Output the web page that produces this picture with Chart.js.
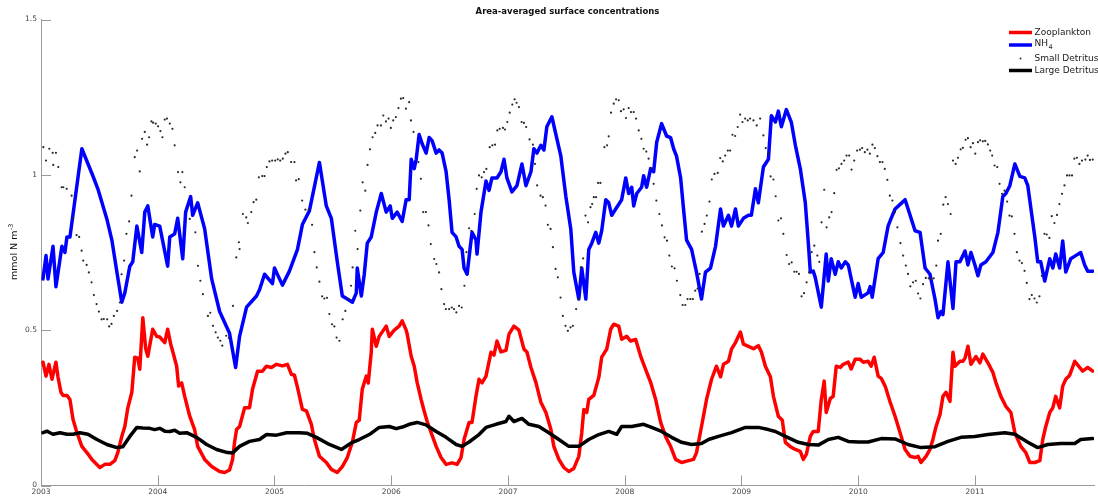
<!DOCTYPE html>
<html>
<head>
<meta charset="utf-8">
<script src="https://cdn.jsdelivr.net/npm/chart.js@4.4.1/dist/chart.umd.min.js"></script>
<style>
  html, body { margin: 0; padding: 0; background: #fff; }
  #wrap { width: 1098px; height: 499px; }
</style>
</head>
<body>
<div id="wrap"><canvas id="myChart" width="1098" height="499"></canvas></div>
<script>
const chartTitle = "Area-averaged surface concentrations";
const startYear = 2003;
const xTicks = [2003, 2004, 2005, 2006, 2007, 2008, 2009, 2010, 2011];
const yTicks = [0, 0.5, 1, 1.5];
const seriesNames = ["Zooplankton", "NH4", "Small Detritus", "Large Detritus"];

// times are years since the start of 2003, values in mmol N m-3

const zooT = [0.017,0.043,0.068,0.094,0.128,0.145,0.171,0.188,0.222,0.248,0.274,0.308,0.350,0.393,0.436,0.504,0.547,0.590,0.632,0.658,
  0.692,0.718,0.744,0.778,0.803,0.829,0.846,0.872,0.897,0.915,0.957,0.991,1.017,1.060,1.085,1.111,1.128,1.162,1.179,1.205,
  1.231,1.274,1.316,1.342,1.402,1.462,1.530,1.573,1.615,1.641,1.658,1.675,1.701,1.744,1.786,1.812,1.855,1.897,1.932,1.974,
  2.017,2.068,2.111,2.145,2.171,2.197,2.239,2.274,2.316,2.342,2.385,2.444,2.487,2.538,2.581,2.624,2.667,2.701,2.726,2.752,
  2.786,2.803,2.829,2.838,2.872,2.897,2.957,2.983,3.026,3.068,3.094,3.128,3.137,3.171,3.197,3.222,3.256,3.282,3.308,3.342,
  3.385,3.427,3.470,3.521,3.564,3.598,3.624,3.667,3.692,3.726,3.752,3.778,3.812,3.855,3.880,3.906,3.940,3.983,4.009,4.051,
  4.094,4.137,4.162,4.197,4.239,4.282,4.325,4.368,4.393,4.436,4.479,4.521,4.564,4.607,4.632,4.650,4.675,4.692,4.735,4.778,
  4.803,4.846,4.880,4.906,4.949,4.974,5.017,5.051,5.094,5.137,5.179,5.222,5.265,5.308,5.350,5.393,5.436,5.487,5.547,5.590,
  5.615,5.658,5.701,5.744,5.786,5.821,5.846,5.889,5.915,5.949,5.991,6.017,6.060,6.103,6.145,6.171,6.205,6.248,6.274,6.316,
  6.350,6.376,6.419,6.462,6.504,6.530,6.556,6.590,6.615,6.658,6.684,6.709,6.726,6.761,6.786,6.812,6.846,6.872,6.915,6.940,
  6.974,7.017,7.043,7.085,7.111,7.137,7.171,7.197,7.231,7.274,7.316,7.359,7.402,7.444,7.487,7.513,7.538,7.581,7.615,7.641,
  7.667,7.701,7.726,7.752,7.786,7.812,7.829,7.872,7.897,7.915,7.940,7.966,8.009,8.043,8.068,8.111,8.154,8.179,8.222,8.265,
  8.308,8.342,8.393,8.436,8.470,8.513,8.556,8.581,8.607,8.641,8.667,8.692,8.726,8.752,8.778,8.812,8.855,8.897,8.923,8.966,
  9.009];
const zooV = [0.397,0.352,0.39,0.342,0.397,0.35,0.30,0.29,0.29,0.277,0.213,0.17,0.126,0.106,0.084,0.058,0.068,0.068,0.08,0.106,
  0.158,0.19,0.25,0.30,0.413,0.41,0.374,0.54,0.44,0.416,0.503,0.48,0.478,0.46,0.503,0.455,0.432,0.384,0.32,0.33,
  0.287,0.223,0.18,0.126,0.084,0.061,0.045,0.042,0.05,0.084,0.139,0.18,0.19,0.25,0.25,0.31,0.368,0.368,0.384,0.38,
  0.39,0.385,0.39,0.358,0.355,0.316,0.245,0.24,0.197,0.148,0.094,0.074,0.052,0.042,0.061,0.09,0.139,0.203,0.21,0.31,
  0.352,0.33,0.429,0.503,0.448,0.48,0.513,0.48,0.50,0.513,0.53,0.50,0.487,0.416,0.384,0.332,0.277,0.24,0.206,0.17,
  0.126,0.09,0.068,0.073,0.068,0.09,0.148,0.203,0.203,0.287,0.342,0.33,0.352,0.429,0.42,0.465,0.43,0.435,0.487,0.513,
  0.50,0.439,0.43,0.38,0.332,0.268,0.235,0.18,0.126,0.084,0.058,0.045,0.055,0.094,0.17,0.245,0.235,0.277,0.29,0.348,
  0.413,0.439,0.503,0.519,0.513,0.471,0.48,0.465,0.47,0.416,0.374,0.332,0.277,0.203,0.158,0.126,0.084,0.074,0.08,0.084,
  0.106,0.19,0.277,0.342,0.384,0.35,0.39,0.40,0.439,0.46,0.494,0.455,0.448,0.44,0.45,0.43,0.384,0.35,0.287,0.223,
  0.21,0.139,0.125,0.116,0.11,0.084,0.10,0.158,0.174,0.174,0.277,0.336,0.235,0.28,0.287,0.384,0.38,0.39,0.397,0.375,
  0.406,0.406,0.397,0.40,0.384,0.413,0.352,0.345,0.32,0.268,0.223,0.17,0.116,0.094,0.09,0.094,0.074,0.094,0.116,0.15,
  0.19,0.229,0.287,0.30,0.271,0.429,0.384,0.40,0.40,0.41,0.448,0.39,0.415,0.395,0.423,0.395,0.364,0.332,0.287,0.255,
  0.235,0.17,0.126,0.106,0.074,0.074,0.08,0.148,0.19,0.235,0.25,0.287,0.25,0.32,0.342,0.355,0.40,0.38,0.368,0.38,
  0.368];

const nh4T = [0.017,0.043,0.060,0.103,0.128,0.179,0.205,0.222,0.248,0.350,0.444,0.487,0.564,0.607,0.650,0.692,0.718,0.761,0.786,0.821,
  0.863,0.889,0.915,0.957,0.974,1.017,1.085,1.103,1.145,1.171,1.214,1.239,1.282,1.299,1.342,1.402,1.462,1.530,1.615,1.667,
  1.701,1.761,1.846,1.872,1.915,1.983,2.000,2.068,2.128,2.197,2.239,2.299,2.385,2.444,2.487,2.538,2.581,2.624,2.667,2.701,
  2.709,2.744,2.769,2.795,2.829,2.872,2.915,2.957,2.991,3.009,3.051,
  3.094,3.128,3.154,3.171,3.197,3.214,3.239,3.265,3.299,3.325,3.350,3.385,3.410,3.436,3.470,3.496,3.521,3.556,3.581,3.607,
  3.624,3.650,3.692,3.726,3.735,3.769,3.812,3.838,3.863,3.906,3.940,3.966,3.991,4.034,4.077,4.120,4.154,4.197,4.222,4.248,
  4.282,4.308,4.333,4.376,4.453,4.496,4.538,4.564,4.607,4.632,4.667,4.692,4.718,4.752,4.778,4.803,4.838,4.863,4.889,4.923,
  4.974,5.009,5.034,5.060,5.077,5.103,5.145,5.162,5.188,5.222,5.248,5.274,5.316,5.359,5.393,5.419,5.444,5.479,5.504,5.530,
  5.573,5.615,5.658,5.692,5.735,5.778,5.821,5.846,5.889,5.915,5.949,5.974,6.017,6.060,
  6.085,6.120,6.145,6.188,6.231,6.256,6.291,6.316,6.342,6.385,6.427,6.462,6.504,6.547,6.573,6.590,6.615,6.632,6.684,6.726,
  6.744,6.769,6.803,6.829,6.855,6.889,6.915,6.974,7.000,7.026,7.085,7.103,7.120,7.171,7.214,7.256,7.282,7.316,7.359,7.402,
  7.453,7.487,7.530,7.573,7.615,7.658,7.684,7.709,7.726,7.769,7.812,7.838,7.872,7.915,7.940,7.966,8.000,8.026,8.051,8.094,
  8.154,8.197,8.239,8.265,8.299,8.342,8.385,8.427,8.453,8.513,8.538,8.564,8.598,8.641,8.667,8.692,8.726,8.752,8.778,8.821,
  8.863,8.906,8.940,8.966,9.009];
const nh4V = [0.665,0.74,0.665,0.77,0.64,0.77,0.75,0.80,0.80,1.084,0.997,0.955,0.858,0.79,0.687,0.59,0.62,0.706,0.72,0.835,
  0.75,0.88,0.90,0.80,0.84,0.835,0.706,0.80,0.81,0.86,0.73,0.88,0.93,0.87,0.91,0.826,0.665,0.56,0.49,0.38,
  0.48,0.574,0.61,0.63,0.68,0.65,0.70,0.645,0.69,0.76,0.84,0.884,1.04,0.90,0.86,0.72,0.61,0.60,0.59,0.62,
  0.70,0.61,0.68,0.78,0.80,0.88,0.94,0.88,0.90,0.86,0.88,
  0.85,0.92,0.92,1.05,1.02,1.05,1.13,1.10,1.07,1.12,1.11,1.07,1.08,1.07,1.01,0.92,0.815,0.80,0.77,0.76,
  0.70,0.68,0.815,0.79,0.745,0.88,0.98,0.95,0.99,0.99,1.01,1.05,0.99,0.945,0.965,1.035,0.965,1.01,1.084,1.07,
  1.095,1.08,1.155,1.187,1.06,0.93,0.826,0.687,0.60,0.70,0.60,0.76,0.78,0.815,0.78,0.82,0.92,0.91,0.87,0.89,
  0.92,0.99,0.94,0.96,0.90,0.94,0.96,0.997,0.96,1.02,1.01,1.105,1.165,1.125,1.12,1.084,1.06,0.99,0.89,0.79,
  0.76,0.687,0.60,0.687,0.70,0.77,0.89,0.835,0.87,0.835,0.89,0.835,0.86,0.87,
  0.87,0.955,0.91,1.025,1.05,1.19,1.17,1.205,1.155,1.21,1.17,1.095,1.02,0.91,0.78,0.687,0.69,0.67,0.574,0.745,
  0.658,0.73,0.68,0.72,0.70,0.72,0.71,0.606,0.65,0.606,0.62,0.64,0.606,0.73,0.75,0.835,0.86,0.89,0.905,0.92,
  0.86,0.82,0.815,0.70,0.68,0.60,0.54,0.56,0.55,0.72,0.57,0.72,0.72,0.755,0.71,0.75,0.71,0.675,0.71,0.72,
  0.75,0.815,0.93,0.94,0.965,1.035,0.995,0.99,0.965,0.80,0.72,0.72,0.658,0.73,0.70,0.745,0.70,0.787,0.687,0.73,
  0.74,0.75,0.71,0.69,0.69];

const sdT = [0.020,0.043,0.071,0.100,0.105,0.128,0.148,0.177,0.191,0.220,0.262,0.276,0.305,0.327,0.348,0.362,0.391,0.410,0.433,0.453,
  0.476,0.496,0.519,0.538,0.567,0.584,0.604,0.624,0.652,0.675,0.690,0.712,0.732,0.755,0.775,0.803,0.823,0.846,0.866,0.889,
  0.909,0.926,0.946,0.960,0.983,1.003,1.023,1.040,1.060,1.079,1.103,1.126,1.145,1.174,1.194,1.211,1.231,1.274,1.322,1.344,
  1.365,1.387,1.430,1.450,1.473,1.496,1.515,1.536,1.553,1.587,1.609,1.644,1.673,1.695,1.701,1.729,1.758,1.772,1.801,1.821,
  1.844,1.866,1.895,1.915,1.934,1.957,1.980,2.006,2.028,2.049,2.071,2.094,2.114,2.143,2.171,2.185,2.208,2.237,2.265,2.293,
  2.322,2.342,2.362,2.385,2.408,2.427,2.450,2.470,2.493,2.513,2.532,2.556,2.584,2.607,2.635,2.656,2.669,2.692,2.712,2.735,
  2.755,2.778,2.797,2.818,2.840,2.863,2.883,2.912,2.932,2.955,2.977,2.997,3.017,3.040,
  3.062,3.083,3.103,3.126,3.154,3.169,3.191,3.233,3.254,3.274,3.297,3.319,3.339,3.368,3.387,3.410,3.430,3.453,3.468,3.496,
  3.519,3.538,3.558,3.581,3.604,3.627,3.644,3.667,3.686,3.715,3.732,3.752,3.775,3.795,3.815,3.844,3.866,3.889,3.909,3.929,
  3.957,3.974,3.994,4.015,4.037,4.057,4.074,4.094,4.117,4.137,4.156,4.185,4.214,4.231,4.250,4.279,4.299,4.322,4.342,4.365,
  4.385,4.408,4.427,4.450,4.470,4.493,4.513,4.536,4.556,4.584,4.607,4.624,4.644,4.664,4.686,4.707,4.721,4.735,4.755,4.772,
  4.792,4.826,4.849,4.863,4.883,4.906,4.926,4.949,4.968,4.991,5.011,5.034,5.054,5.077,5.097,5.120,5.143,5.162,5.185,5.205,
  5.228,5.248,5.271,5.297,5.319,5.342,5.362,5.382,5.404,5.427,5.447,5.476,5.496,5.519,5.538,5.562,5.584,5.604,5.624,5.641,
  5.661,5.684,5.703,5.726,5.746,5.769,5.797,5.818,5.840,5.861,5.883,5.903,5.923,5.946,5.968,5.989,6.009,6.032,6.054,
  6.074,6.103,6.131,6.160,6.188,6.208,6.231,6.250,6.274,6.293,6.316,6.339,6.359,6.387,6.408,6.430,6.453,6.473,6.493,6.515,
  6.536,6.558,6.579,6.601,6.624,6.650,6.667,6.686,6.709,6.729,6.752,6.772,6.795,6.815,6.835,6.857,6.880,6.900,6.923,6.943,
  6.966,6.991,7.015,7.034,7.057,7.079,7.100,7.122,7.143,7.165,7.186,7.208,7.228,7.250,7.271,7.293,7.314,7.336,7.362,7.385,
  7.408,7.427,7.447,7.470,7.493,7.513,7.533,7.556,7.579,7.604,7.627,7.647,7.669,7.684,7.707,7.729,7.749,7.769,7.792,7.812,
  7.835,7.855,7.878,7.897,7.920,7.940,7.963,7.983,8.003,8.026,8.045,8.068,8.088,8.111,8.131,8.148,8.168,8.191,8.211,8.233,
  8.254,8.276,8.296,8.316,8.339,8.359,8.382,8.402,8.425,8.444,8.467,8.487,8.510,8.530,8.553,8.573,8.596,8.615,8.638,8.658,
  8.681,8.703,8.724,8.746,8.767,8.789,8.810,8.832,8.852,8.874,8.895,8.917,8.946,8.966,8.985,9.009];
const sdV = [1.089,1.046,1.084,1.071,1.032,1.071,1.025,0.96,0.96,0.955,0.933,0.86,0.806,0.80,0.756,0.724,0.71,0.686,0.654,0.613,
  0.584,0.56,0.535,0.536,0.535,0.512,0.52,0.546,0.562,0.589,0.68,0.724,0.81,0.85,0.933,1.057,1.078,1.011,1.116,1.138,
  1.097,1.121,1.172,1.168,1.165,1.156,1.141,1.121,1.178,1.181,1.165,1.148,1.095,1.009,0.976,1.009,0.96,0.858,0.815,0.707,
  0.659,0.616,0.546,0.556,0.514,0.493,0.476,0.466,0.45,0.482,0.475,0.578,0.734,0.783,0.761,0.874,0.863,0.845,0.88,0.912,
  0.92,0.992,0.996,0.996,1.025,1.043,1.046,1.046,1.05,1.046,1.052,1.068,1.073,1.041,1.041,0.982,0.986,0.917,0.888,0.888,
  0.839,0.751,0.702,0.656,0.609,0.602,0.604,0.552,0.519,0.512,0.476,0.466,0.535,0.562,0.60,0.643,0.702,0.82,0.761,0.885,
  0.976,0.949,1.032,1.082,1.121,1.135,1.159,1.159,1.191,1.172,1.181,1.151,1.175,1.186,
  1.215,1.245,1.247,1.213,1.234,1.175,1.138,1.041,0.987,0.88,0.88,0.837,0.777,0.729,0.713,0.686,0.632,0.584,0.568,0.568,
  0.573,0.568,0.557,0.578,0.573,0.643,0.751,0.828,0.82,0.874,0.955,0.998,0.992,1.009,1.019,1.089,1.095,1.097,1.143,1.148,
  1.151,1.146,1.170,1.2,1.226,1.243,1.232,1.218,1.170,1.167,1.154,1.114,1.097,1.035,0.966,0.933,0.928,0.901,0.839,0.826,
  0.767,0.697,0.670,0.605,0.546,0.514,0.498,0.509,0.514,0.568,0.60,0.702,0.731,0.869,0.847,0.896,0.906,0.928,0.928,0.974,
  0.974,1.089,1.095,1.124,1.2,1.229,1.243,1.240,1.205,1.211,1.183,1.215,1.202,1.202,1.181,1.143,1.116,1.084,1.075,1.052,
  1.021,0.971,0.917,0.874,0.837,0.799,0.788,0.740,0.705,0.699,0.659,0.613,0.581,0.581,0.60,0.60,0.60,0.627,0.634,0.681,
  0.817,0.842,0.869,0.914,0.985,1.003,1.006,1.054,1.043,1.062,1.078,1.078,1.129,1.125,1.154,1.194,1.170,1.181,1.175,
  1.181,1.175,1.159,1.181,1.127,1.086,1.068,0.995,0.985,0.931,0.853,0.860,0.810,0.742,0.713,0.718,0.688,0.688,0.681,0.609,
  0.619,0.654,0.686,0.751,0.772,0.740,0.720,0.847,0.952,0.831,0.863,0.880,0.941,1.016,1.021,1.035,1.046,1.062,1.062,1.017,
  1.046,1.078,1.081,1.086,1.073,1.081,1.068,1.097,1.086,1.060,1.041,1.041,1.019,0.984,0.933,0.917,0.880,0.831,0.780,0.740,
  0.708,0.681,0.641,0.654,0.659,0.618,0.602,0.648,0.668,0.667,0.665,0.667,0.708,0.788,0.810,0.904,0.928,0.906,0.874,1.046,
  1.035,1.055,1.082,1.087,1.113,1.118,1.089,1.102,1.068,1.105,1.111,1.108,1.109,1.098,1.078,1.062,1.030,1.025,0.971,0.939,
  0.949,0.914,0.869,0.866,0.810,0.751,0.724,0.716,0.691,0.652,0.600,0.613,0.602,0.589,0.609,0.675,0.810,0.808,0.797,0.867,
  0.845,0.871,0.906,0.939,0.966,0.998,0.998,0.998,1.052,1.055,1.035,1.046,1.049,1.062,1.048,1.049];

const ldT = [0.017,0.051,0.077,0.103,0.162,0.222,0.274,0.333,0.402,0.479,0.564,0.650,0.701,0.761,0.821,0.872,0.932,0.974,1.017,1.060,
  1.103,1.145,1.188,1.248,1.333,1.419,1.504,1.598,1.641,1.701,1.786,1.872,1.932,2.017,2.103,2.214,2.282,2.359,2.470,2.573,
  2.667,2.726,2.812,2.897,2.983,3.043,3.111,3.154,3.222,3.299,3.385,3.470,3.556,3.607,3.667,3.752,3.812,3.897,3.983,4.009,
  4.051,4.120,4.179,4.265,4.350,4.436,4.521,4.607,4.692,4.778,4.863,4.932,4.974,5.060,5.162,5.231,5.316,5.402,5.487,5.573,
  5.658,5.718,5.803,5.915,6.034,6.145,6.231,6.291,6.376,6.487,6.573,6.658,6.744,6.829,6.915,7.000,7.085,7.197,7.316,7.427,
  7.538,7.658,7.769,7.880,8.000,8.111,8.256,8.342,8.453,8.538,8.624,8.735,8.855,8.906,9.009];
const ldV = [0.17,0.175,0.17,0.165,0.17,0.165,0.165,0.17,0.165,0.148,0.132,0.122,0.125,0.158,0.187,0.185,0.184,0.18,0.184,0.175,
  0.174,0.178,0.168,0.17,0.155,0.132,0.116,0.106,0.105,0.126,0.142,0.148,0.164,0.162,0.17,0.17,0.168,0.155,0.132,0.116,
  0.139,0.148,0.164,0.187,0.19,0.183,0.19,0.197,0.203,0.195,0.174,0.155,0.132,0.126,0.14,0.164,0.187,0.197,0.206,0.223,
  0.206,0.216,0.197,0.19,0.17,0.148,0.126,0.126,0.148,0.164,0.174,0.165,0.19,0.19,0.197,0.187,0.174,0.155,0.139,0.132,
  0.135,0.148,0.158,0.17,0.187,0.187,0.18,0.174,0.158,0.139,0.132,0.13,0.148,0.155,0.142,0.14,0.14,0.151,0.15,0.132,
  0.122,0.125,0.142,0.155,0.158,0.164,0.17,0.165,0.139,0.122,0.132,0.135,0.135,0.148,0.151];

function toPoints(t, v) {
  return t.map((ti, i) => ({ x: startYear + ti, y: v[i] }));
}

const font = "'DejaVu Sans', 'Liberation Sans', sans-serif";

// matlab-ish frame: inward ticks, title, y label and the little legend box
const decorations = {
  id: "decorations",
  afterDraw(chart) {
    const ctx = chart.ctx;
    const area = chart.chartArea;
    const xs = chart.scales.x;
    const ys = chart.scales.y;
    ctx.save();

    ctx.strokeStyle = "#9a9a9a";
    ctx.lineWidth = 1;
    ctx.beginPath();
    yTicks.forEach((v) => {
      const py = Math.round(ys.getPixelForValue(v)) + 0.5;
      ctx.moveTo(area.left, py);
      ctx.lineTo(area.left + 10, py);
    });
    xTicks.forEach((v) => {
      const px = Math.round(xs.getPixelForValue(v)) + 0.5;
      ctx.moveTo(px, area.bottom);
      ctx.lineTo(px, area.bottom - 10);
    });
    ctx.stroke();

    ctx.fillStyle = "#111";
    ctx.font = "bold 8.5px " + font;
    ctx.textAlign = "center";
    ctx.textBaseline = "middle";
    ctx.fillText(chartTitle, (area.left + area.right) / 2, 12);

    // y label with superscript
    ctx.save();
    ctx.translate(15, 252);
    ctx.rotate(-Math.PI / 2);
    ctx.font = "9.5px " + font;
    const main = "mmol N m";
    const w1 = ctx.measureText(main).width;
    ctx.font = "6.5px " + font;
    const w2 = ctx.measureText("-3").width;
    const x0 = -(w1 + w2) / 2;
    ctx.textAlign = "left";
    ctx.font = "9.5px " + font;
    ctx.fillText(main, x0, 0);
    ctx.font = "6.5px " + font;
    ctx.fillText("-3", x0 + w1 + 0.5, -4);
    ctx.restore();

    // legend
    const lx0 = 1009, lx1 = 1032, tx = 1034.5;
    const rows = [
      { color: "#ff0000", y: 32.5, kind: "line" },
      { color: "#0000ff", y: 45, kind: "line" },
      { color: "#333", y: 58.5, kind: "dot" },
      { color: "#000", y: 70.5, kind: "line" }
    ];
    ctx.textAlign = "left";
    ctx.textBaseline = "middle";
    rows.forEach((r, i) => {
      if (r.kind === "line") {
        ctx.strokeStyle = r.color;
        ctx.lineWidth = 3.5;
        ctx.beginPath();
        ctx.moveTo(lx0, r.y);
        ctx.lineTo(lx1, r.y);
        ctx.stroke();
      } else {
        ctx.fillStyle = r.color;
        ctx.beginPath();
        ctx.arc((lx0 + lx1) / 2, r.y, 1, 0, Math.PI * 2);
        ctx.fill();
      }
      ctx.fillStyle = "#1a1a1a";
      ctx.font = "9px " + font;
      if (seriesNames[i] === "NH4") {
        ctx.fillText("NH", tx, r.y - 1);
        const wNH = ctx.measureText("NH").width;
        ctx.font = "6.5px " + font;
        ctx.fillText("4", tx + wNH + 0.5, r.y + 2.5);
      } else {
        ctx.fillText(seriesNames[i], tx, r.y);
      }
    });

    ctx.restore();
  }
};

const tickFont = { family: font, size: 7.5 };

new Chart("myChart", {
  type: "line",
  data: {
    datasets: [
      {
        label: seriesNames[0],
        data: toPoints(zooT, zooV),
        borderColor: "#ff0000",
        borderWidth: 3.5,
        pointRadius: 0,
        order: 4
      },
      {
        label: seriesNames[1],
        data: toPoints(nh4T, nh4V),
        borderColor: "#0000ff",
        borderWidth: 3.5,
        pointRadius: 0,
        order: 3
      },
      {
        label: seriesNames[2],
        data: toPoints(sdT, sdV),
        showLine: false,
        pointRadius: 1.1,
        pointBorderWidth: 0,
        pointBackgroundColor: "#2a2a2a",
        order: 2
      },
      {
        label: seriesNames[3],
        data: toPoints(ldT, ldV),
        borderColor: "#000",
        borderWidth: 3.5,
        pointRadius: 0,
        order: 1
      }
    ]
  },
  options: {
    responsive: false,
    animation: false,
    devicePixelRatio: 1,
    elements: { line: { tension: 0, borderJoinStyle: "round", borderCapStyle: "round" } },
    layout: { padding: { top: 19.5, right: 1, left: 0, bottom: 0 } },
    plugins: {
      legend: { display: false },
      tooltip: { enabled: false },
      title: { display: false }
    },
    scales: {
      x: {
        type: "linear",
        min: 2003,
        max: 2012.02,
        afterBuildTicks: (s) => { s.ticks = xTicks.map((v) => ({ value: v })); },
        afterFit: (s) => { s.height = 13.5; },
        grid: { display: false, drawTicks: false },
        border: { display: true, color: "#9a9a9a", width: 1 },
        ticks: {
          padding: 2,
          autoSkip: false,
          maxRotation: 0,
          color: "#444",
          font: tickFont,
          callback: (v) => String(v)
        }
      },
      y: {
        min: 0,
        max: 1.5,
        afterBuildTicks: (s) => { s.ticks = yTicks.map((v) => ({ value: v })); },
        afterFit: (s) => { s.width = 41; },
        grid: { display: false, drawTicks: false },
        border: { display: true, color: "#9a9a9a", width: 1 },
        ticks: {
          padding: 4,
          color: "#444",
          font: tickFont,
          callback: (v) => String(v)
        }
      }
    }
  },
  plugins: [decorations]
});
</script>
</body>
</html>
